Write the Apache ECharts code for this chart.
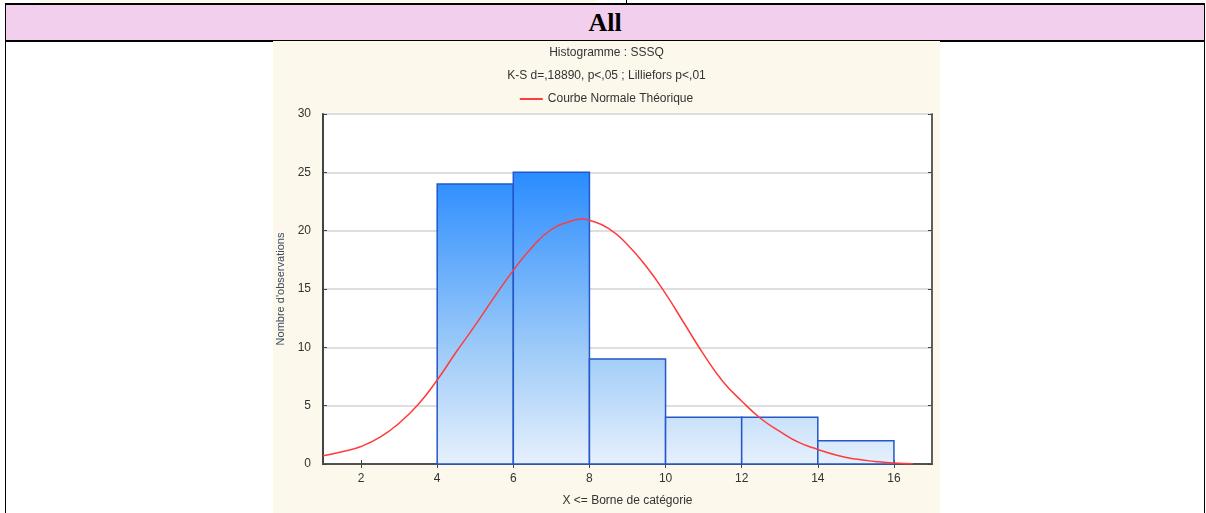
<!DOCTYPE html>
<html>
<head>
<meta charset="utf-8">
<script src="https://cdn.jsdelivr.net/npm/echarts@6/dist/echarts.min.js"></script>
<style>
  html, body { margin: 0; padding: 0; background: #fff; }
  body { width: 1206px; height: 513px; position: relative; overflow: hidden; }
  .prev_img { position: absolute; left: 39px; top: 0; width: 558px; height: 2px; background: #fdf8ec; }
  .prev_sep { position: absolute; left: 626px; top: 0; width: 1px; height: 4px; background: #000; }
  .head_row {
    position: absolute; left: 5px; top: 3px; width: 1198px; height: 35px;
    background: #f2cfec; border-top: 2px solid #000; border-bottom: 2px solid #000;
    border-left: 1px solid #000; border-right: 1px solid #000;
    text-align: center; line-height: 36px;
    font-family: 'Liberation Serif', 'DejaVu Serif', serif; font-weight: bold; font-size: 26px; color: #000;
  }
  .cell_left { position: absolute; left: 5px; top: 41px; width: 1px; height: 472px; background: #000; }
  .cell_right { position: absolute; left: 1204px; top: 41px; width: 1px; height: 472px; background: #000; }
  .chart_1 { position: absolute; left: 273px; top: 41px; width: 667px; height: 472px; background: #fdf8ec; }
</style>
</head>
<body>
<div class="prev_img"></div>
<div class="prev_sep"></div>
<div class="head_row">All</div>
<div class="cell_left"></div>
<div class="cell_right"></div>
<div class="chart_1"></div>
<script>
const chart = echarts.init(document.querySelector('.chart_1'))

// Histogram bins: [lower bound, upper bound, count]
const binStart = [4, 6, 8, 10, 12, 14]
const binEnd = [6, 8, 10, 12, 14, 16]
const binCount = [24, 25, 9, 4, 4, 2]

// Theoretical normal curve
const curveX = [1, 1.5, 2, 2.5, 3, 3.5, 4, 4.5, 5, 5.5, 6, 6.5, 7, 7.5, 7.8, 8, 8.5, 9, 9.5, 10, 10.5, 11, 11.5, 12, 12.5, 13, 13.5, 14, 14.5, 15, 15.5, 16, 16.5]
const curveY = [0.7, 1.05, 1.5, 2.3, 3.5, 5.1, 7.2, 9.6, 11.9, 14.3, 16.6, 18.6, 20.1, 20.8, 21.0, 20.9, 20.2, 18.8, 16.9, 14.6, 12.0, 9.4, 7.1, 5.4, 3.9, 2.8, 1.85, 1.25, 0.75, 0.42, 0.22, 0.08, 0.03]

const xTicks = [2, 4, 6, 8, 10, 12, 14, 16]

const barData = binStart.map((s, i) => [s, binEnd[i], binCount[i]])
const curveData = curveX.map((x, i) => [x, curveY[i]])

const textColor = '#333'
const fontFamily = "'Liberation Sans', Arial, sans-serif"

const option = {
  animation: false,
  textStyle: { fontFamily: fontFamily },
  title: [
    {
      text: 'Histogramme : SSSQ',
      left: 'center',
      top: 1,
      textStyle: { fontSize: 12, fontWeight: 'normal', color: textColor, fontFamily: fontFamily },
    },
    {
      text: 'K-S d=,18890, p<,05 ; Lilliefors p<,01',
      left: 'center',
      top: 24,
      textStyle: { fontSize: 12, fontWeight: 'normal', color: textColor, fontFamily: fontFamily },
    },
  ],
  legend: {
    top: 47,
    left: 'center',
    data: ['Courbe Normale Théorique'],
    icon: 'rect',
    itemWidth: 23,
    itemHeight: 2,
    itemGap: 6,
    textStyle: { fontSize: 12, color: textColor, fontFamily: fontFamily },
  },
  grid: {
    left: 50,
    right: 8,
    top: 73,
    bottom: 49,
    outerBoundsMode: 'none',
    show: true,
    backgroundColor: '#fff',
    borderColor: '#555',
    borderWidth: 1.5,
  },
  xAxis: [
    {
      type: 'value',
      min: 1,
      max: 17,
      name: 'X <= Borne de catégorie',
      nameLocation: 'middle',
      nameGap: 31,
      nameTextStyle: { fontSize: 12, color: textColor },
      axisLine: { show: true, lineStyle: { color: '#444', width: 2 } },
      axisTick: { show: true, inside: true, length: 4, customValues: xTicks, lineStyle: { color: '#444' } },
      axisLabel: { customValues: xTicks, fontSize: 12, color: textColor, margin: 9 },
      splitLine: { show: false },
    },
    {
      type: 'value',
      position: 'top',
      min: 1,
      max: 17,
      axisLine: { show: true, lineStyle: { color: '#555', width: 1.5 } },
      axisTick: { show: true, inside: true, length: 4, customValues: xTicks, lineStyle: { color: '#444' } },
      axisLabel: { show: false, customValues: xTicks },
      splitLine: { show: false },
    },
  ],
  yAxis: [
    {
      type: 'value',
      min: 0,
      max: 30,
      interval: 5,
      name: "Nombre d'observations",
      nameLocation: 'middle',
      nameGap: 30,
      nameTextStyle: { fontSize: 11, color: '#3a4a60' },
      axisLine: { show: true, lineStyle: { color: '#444', width: 2 } },
      axisTick: { show: true, inside: true, length: 4, lineStyle: { color: '#444' } },
      axisLabel: { fontSize: 12, color: textColor, margin: 12 },
      splitLine: { show: true, lineStyle: { color: '#dedede', width: 2 } },
    },
    {
      type: 'value',
      position: 'right',
      min: 0,
      max: 30,
      interval: 5,
      axisLine: { show: true, lineStyle: { color: '#555', width: 1.5 } },
      axisTick: { show: true, inside: true, length: 4, lineStyle: { color: '#444' } },
      axisLabel: { show: false },
      splitLine: { show: false },
    },
  ],
  series: [
    {
      name: 'Histogramme',
      type: 'custom',
      xAxisIndex: 0,
      yAxisIndex: 0,
      data: barData,
      encode: { x: [0, 1], y: 2 },
      renderItem: (params, api) => {
        const p0 = api.coord([api.value(0), api.value(2)])
        const p1 = api.coord([api.value(1), 0])
        // gradient runs over the whole plot height, so equal heights share one colour
        const gTop = api.coord([1, 25])[1]
        const gBottom = api.coord([1, 0])[1]
        return {
          type: 'rect',
          shape: { x: p0[0], y: p0[1], width: p1[0] - p0[0], height: p1[1] - p0[1] },
          style: {
            fill: new echarts.graphic.LinearGradient(0, gTop, 0, gBottom, [
              { offset: 0, color: '#2a8cff' },
              { offset: 0.6, color: '#9ccaf8' },
              { offset: 1, color: '#e6f0fc' },
            ], true),
            stroke: '#2457c8',
            lineWidth: 1.5,
          },
        }
      },
      z: 2,
    },
    {
      name: 'Courbe Normale Théorique',
      type: 'line',
      xAxisIndex: 0,
      yAxisIndex: 0,
      data: curveData,
      smooth: true,
      showSymbol: false,
      itemStyle: { color: '#ff3b3b' },
      lineStyle: { color: '#ff3b3b', width: 1.5 },
      z: 3,
    },
  ],
}

chart.setOption(option)
</script>
</body>
</html>
